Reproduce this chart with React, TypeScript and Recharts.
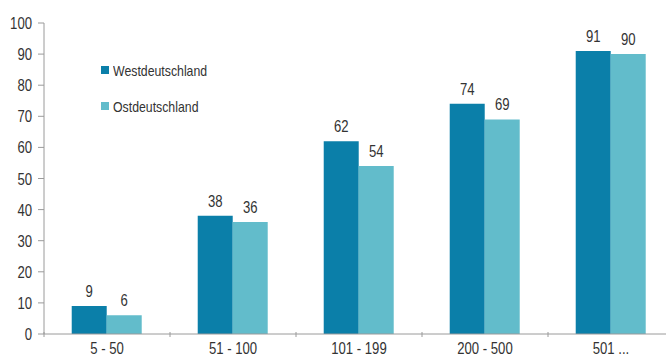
import React from 'react';
import { BarChart, Bar, XAxis, YAxis, LabelList } from 'recharts';

const categories = ['5 - 50', '51 - 100', '101 - 199', '200 - 500', '501 ...'];
const west = [9, 38, 62, 74, 91];
const ost = [6, 36, 54, 69, 90];
const yTicks = [0, 10, 20, 30, 40, 50, 60, 70, 80, 90, 100];

const WEST_COLOR = '#0b7fa9';
const OST_COLOR = '#62bccb';
const FONT = '"Liberation Sans", Arial, sans-serif';
const SQUEEZE = 0.82; // fake a narrow face

const data = categories.map((name, i) => ({ name, west: west[i], ost: ost[i] }));

const BAND = 126;

function NText({ x, y, anchor, size = 16, children }: any) {
  return (
    <text
      transform={`translate(${x},${y}) scale(${SQUEEZE},1)`}
      textAnchor={anchor}
      fill="#333"
      fontSize={size}
      fontFamily={FONT}
    >
      {children}
    </text>
  );
}

// x tick sits on the axis line (tickSize/tickMargin = 0)
function XTick(props: any) {
  const { x, y, payload } = props;
  return (
    <g>
      <line x1={x - BAND / 2} x2={x - BAND / 2} y1={y - 2} y2={y + 3} stroke="#9a9a9a" />
      <NText x={x} y={y + 20} anchor="middle">{payload.value}</NText>
    </g>
  );
}

function YTick(props: any) {
  const { x, y, payload } = props;
  return <NText x={x} y={y + 6} anchor="end">{payload.value}</NText>;
}

function BarLabel(props: any) {
  const { x, y, width, value } = props;
  return <NText x={x + width / 2} y={y - 9} anchor="middle">{value}</NText>;
}

function LegendBox() {
  const items = [
    { label: 'Westdeutschland', color: WEST_COLOR },
    { label: 'Ostdeutschland', color: OST_COLOR },
  ];
  return (
    <div style={{ position: 'absolute', left: 101, top: 61, fontFamily: FONT, fontSize: 15, color: '#333' }}>
      {items.map((it) => (
        <div key={it.label} style={{ display: 'flex', alignItems: 'center', height: 18, marginBottom: 18 }}>
          <span style={{ display: 'inline-block', width: 8, height: 8, background: it.color, marginRight: 4 }} />
          <span style={{ display: 'inline-block', transform: `scaleX(${SQUEEZE})`, transformOrigin: 'left center' }}>
            {it.label}
          </span>
        </div>
      ))}
    </div>
  );
}

export default function App() {
  return (
    <div style={{ position: 'absolute', left: 0, top: 0, width: 666, height: 358, overflow: 'hidden', background: '#fff' }}>
      <BarChart
        width={680}
        height={358}
        data={data}
        margin={{ top: 23, right: 6, left: 0, bottom: 0 }}
        barCategoryGap="22%"
        barGap={0}
      >
        <YAxis
          width={44}
          domain={[0, 100]}
          ticks={yTicks}
          interval={0}
          tick={<YTick />}
          tickSize={6}
          tickMargin={6}
          tickLine={{ stroke: '#9a9a9a' }}
          axisLine={{ stroke: '#9a9a9a' }}
        />
        <XAxis
          dataKey="name"
          height={24}
          interval={0}
          tickSize={0}
          tickMargin={0}
          tickLine={false}
          axisLine={{ stroke: '#9a9a9a' }}
          tick={<XTick />}
        />
        <Bar dataKey="west" name="Westdeutschland" fill={WEST_COLOR} isAnimationActive={false}>
          <LabelList dataKey="west" content={<BarLabel />} />
        </Bar>
        <Bar dataKey="ost" name="Ostdeutschland" fill={OST_COLOR} isAnimationActive={false}>
          <LabelList dataKey="ost" content={<BarLabel />} />
        </Bar>
      </BarChart>
      <LegendBox />
    </div>
  );
}
